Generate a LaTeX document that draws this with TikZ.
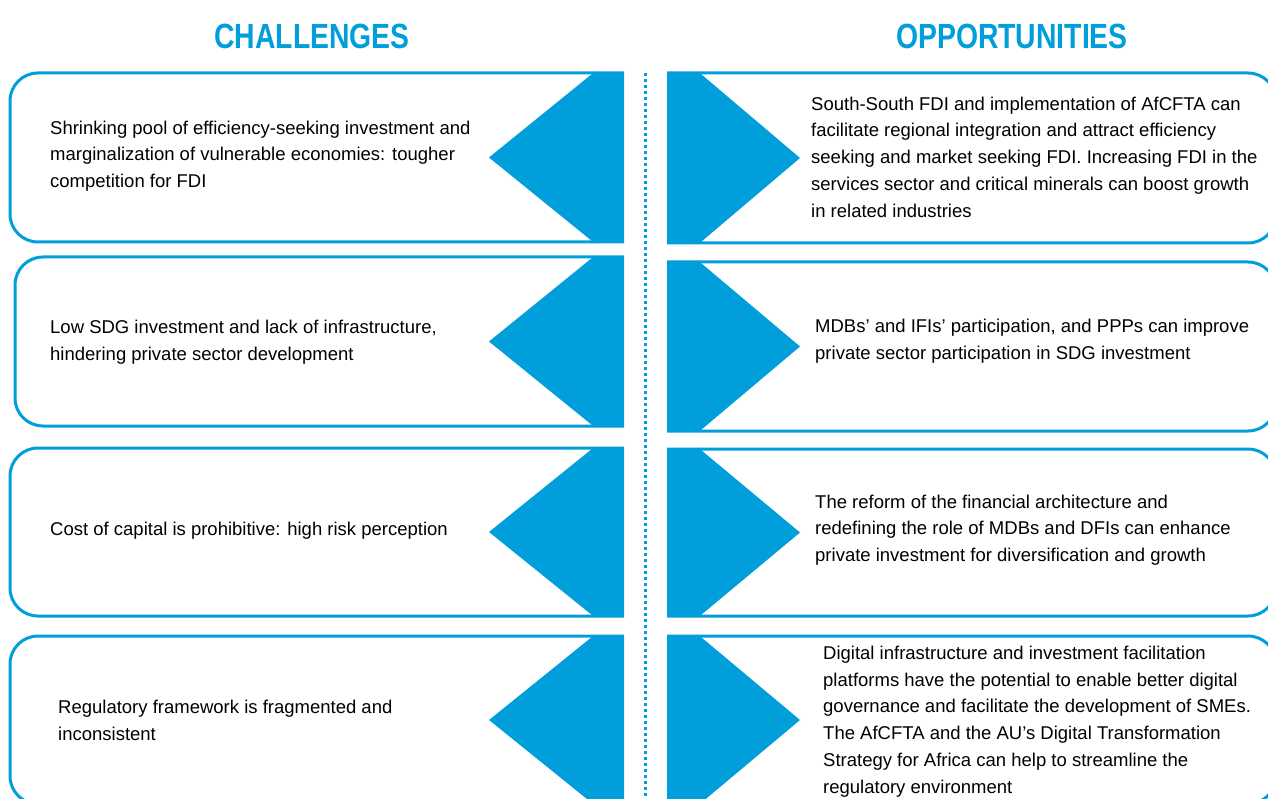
\documentclass[tikz,border=0pt]{standalone}
\usepackage{fontspec}
\setmainfont{Liberation Sans}
\newfontfamily\headfont[FakeStretch=0.81]{Liberation Sans}
\definecolor{unblue}{RGB}{0,158,219}

\begin{document}
\begin{tikzpicture}[x=1pt,y=-1pt,
  boxline/.style={draw=unblue,line width=3pt,rounded corners=28pt},
  wedge/.style={fill=unblue},
  body/.style={font={\fontsize{18.5}{26.7}\selectfont},align=left,anchor=west,inner sep=0pt,text=black},
  head/.style={font={\headfont\bfseries\fontsize{35}{40}\selectfont},text=unblue,inner sep=0pt},
  divider/.style={draw=unblue,line width=3pt,dash pattern=on 3pt off 3pt}]

\useasboundingbox (0,0) rectangle (1268,799);
\clip (0,0) rectangle (1268,799);

% column headings
\node[head] (hc) at (312,36) {CHALLENGES};
\node[head] (ho) at (1012,36) {OPPORTUNITIES};

% dotted divider
\coordinate (dtop) at (645,73);
\coordinate (dbot) at (645,802);
\draw[divider] (dtop) -- (dbot);

% challenge boxes: outline on the left, blue notch on the right
\foreach \l/\t/\b in {10/73/242, 15/257/426, 10/448/616, 10/636/804}{
  \draw[boxline] (595,\t) -- (\l,\t) -- (\l,\b) -- (595,\b);
  \fill[wedge] (595,\t-1.5) -- (624,\t-1.5) -- (624,\b+1.5) -- (595,\b+1.5)
               -- (489,{(\t+\b)/2}) -- cycle;
}

% opportunity boxes: blue arrow on the left, outline on the right
\foreach \t/\b in {73/243, 262/431, 449/616, 636/804}{
  \draw[boxline] (698,\t) -- (1276,\t) -- (1276,\b) -- (698,\b);
  \fill[wedge] (667,\t-1.5) -- (698,\t-1.5) -- (800,{(\t+\b)/2})
               -- (698,\b+1.5) -- (667,\b+1.5) -- cycle;
}

% challenge texts
\node[body] (c1) at (50,156) {Shrinking pool of efficiency-seeking investment and\\marginalization of vulnerable economies: tougher\\competition for FDI};
\node[body] (c2) at (50,342) {Low SDG investment and lack of infrastructure,\\hindering private sector development};
\node[body] (c3) at (50,531) {Cost of capital is prohibitive: high risk perception};
\node[body] (c4) at (58,720.5) {Regulatory framework is fragmented and\\inconsistent};

% opportunity texts
\node[body] (o1) at (811,157) {South-South FDI and implementation of AfCFTA can\\facilitate regional integration and attract efficiency\\seeking and market seeking FDI. Increasing FDI in the\\services sector and critical minerals can boost growth\\in related industries};
\node[body] (o2) at (815,341) {MDBs’ and IFIs’ participation, and PPPs can improve\\private sector participation in SDG investment};
\node[body] (o3) at (815,530) {The reform of the financial architecture and\\redefining the role of MDBs and DFIs can enhance\\private investment for diversification and growth};
\node[body] (o4) at (823,721.5) {Digital infrastructure and investment facilitation\\platforms have the potential to enable better digital\\governance and facilitate the development of SMEs.\\The AfCFTA and the AU’s Digital Transformation\\Strategy for Africa can help to streamline the\\regulatory environment};
\end{tikzpicture}
\end{document}
